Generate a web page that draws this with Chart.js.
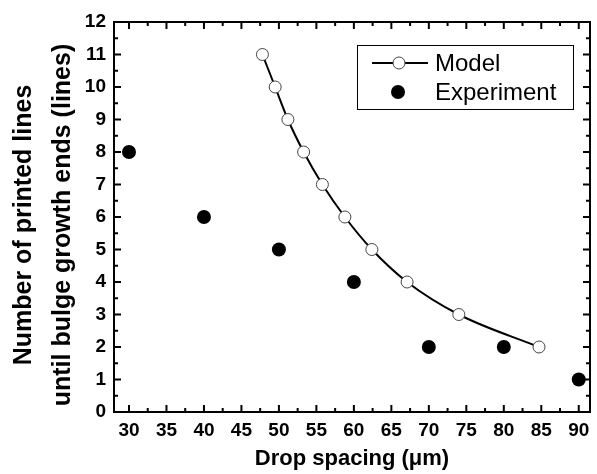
<!DOCTYPE html>
<html>
<head>
<meta charset="utf-8">
<script src="https://cdn.jsdelivr.net/npm/chart.js@4.4.1/dist/chart.umd.min.js"></script>
<style>
  html, body { margin: 0; padding: 0; background: #fff; }
  #wrap { width: 597px; height: 474px; }
</style>
</head>
<body>
<div id="wrap"><canvas id="chart" width="597" height="474"></canvas></div>
<script>
  // ---- data ----
  const modelX = [47.8, 49.5, 51.2, 53.3, 55.8, 58.8, 62.4, 67.1, 74.0, 84.7];
  const modelY = [11, 10, 9, 8, 7, 6, 5, 4, 3, 2];
  const expX = [30, 40, 50, 60, 70, 80, 90];
  const expY = [8, 6, 5, 4, 2, 2, 1];

  const xTicks = [30, 35, 40, 45, 50, 55, 60, 65, 70, 75, 80, 85, 90];
  const yTicks = [0, 1, 2, 3, 4, 5, 6, 7, 8, 9, 10, 11, 12];

  const seriesNames = ["Model", "Experiment"];
  const xTitle = "Drop spacing (\u03bcm)";
  const yTitle = ["Number of printed lines", "until bulge growth ends (lines)"];

  const FONT = "Arial, 'Liberation Sans', sans-serif";

  // inward major + minor ticks on all four sides, plus the box
  const framePlugin = {
    id: "frame",
    beforeDatasetsDraw(chart) {
      const { ctx, chartArea: a, scales: { x, y } } = chart;
      const major = 7, minor = 4;
      ctx.save();
      ctx.strokeStyle = "#000";
      ctx.lineWidth = 2;
      ctx.beginPath();
      xTicks.forEach((v, i) => {
        const px = x.getPixelForValue(v);
        ctx.moveTo(px, a.bottom); ctx.lineTo(px, a.bottom - major);
        ctx.moveTo(px, a.top); ctx.lineTo(px, a.top + major);
        if (i < xTicks.length - 1) {
          const mx = x.getPixelForValue((v + xTicks[i + 1]) / 2);
          ctx.moveTo(mx, a.bottom); ctx.lineTo(mx, a.bottom - minor);
          ctx.moveTo(mx, a.top); ctx.lineTo(mx, a.top + minor);
        }
      });
      yTicks.forEach((v, i) => {
        const py = y.getPixelForValue(v);
        ctx.moveTo(a.left, py); ctx.lineTo(a.left + major, py);
        ctx.moveTo(a.right, py); ctx.lineTo(a.right - major, py);
        if (i < yTicks.length - 1) {
          const my = y.getPixelForValue((v + yTicks[i + 1]) / 2);
          ctx.moveTo(a.left, my); ctx.lineTo(a.left + minor, my);
          ctx.moveTo(a.right, my); ctx.lineTo(a.right - minor, my);
        }
      });
      ctx.stroke();
      ctx.strokeRect(a.left, a.top, a.right - a.left, a.bottom - a.top);
      ctx.restore();
    }
  };

  // two-line rotated y title (spacing wider than the library allows to shift)
  const yTitlePlugin = {
    id: "yTitle",
    afterDraw(chart) {
      const { ctx } = chart;
      ctx.save();
      ctx.font = `bold 25px ${FONT}`;
      ctx.fillStyle = "#000";
      ctx.textAlign = "center";
      ctx.textBaseline = "middle";
      const xs = [24, 63];
      yTitle.forEach((t, i) => {
        ctx.save();
        ctx.translate(xs[i], 225);
        ctx.rotate(-Math.PI / 2);
        ctx.fillText(t, 0, 0);
        ctx.restore();
      });
      ctx.restore();
    }
  };

  // boxed legend inside the plot, top right
  const legendPlugin = {
    id: "boxLegend",
    afterDatasetsDraw(chart) {
      const { ctx } = chart;
      const box = { x: 357, y: 45, w: 216, h: 64 };
      ctx.save();
      ctx.fillStyle = "#fff";
      ctx.fillRect(box.x, box.y, box.w, box.h);
      ctx.strokeStyle = "#000";
      ctx.lineWidth = 1;
      ctx.strokeRect(box.x + 0.5, box.y + 0.5, box.w, box.h);

      const rows = [63, 92];
      // Model: line with hollow marker
      ctx.lineWidth = 2;
      ctx.beginPath();
      ctx.moveTo(372, rows[0]); ctx.lineTo(428, rows[0]);
      ctx.stroke();
      ctx.beginPath();
      ctx.arc(399, rows[0], 6, 0, Math.PI * 2);
      ctx.fillStyle = "#fff";
      ctx.fill();
      ctx.lineWidth = 1;
      ctx.strokeStyle = "#444";
      ctx.stroke();
      // Experiment: filled marker
      ctx.beginPath();
      ctx.arc(398, rows[1], 7, 0, Math.PI * 2);
      ctx.fillStyle = "#000";
      ctx.fill();

      ctx.font = `24px ${FONT}`;
      ctx.fillStyle = "#000";
      ctx.textAlign = "left";
      ctx.textBaseline = "middle";
      seriesNames.forEach((n, i) => ctx.fillText(n, 435, rows[i] + 1));
      ctx.restore();
    }
  };

  const tickFont = { family: FONT, size: 19, weight: "bold" };

  new Chart(document.getElementById("chart").getContext("2d"), {
    type: "scatter",
    data: {
      datasets: [
        {
          label: seriesNames[0],
          data: modelX.map((v, i) => ({ x: v, y: modelY[i] })),
          showLine: true,
          borderColor: "#000",
          borderWidth: 2,
          cubicInterpolationMode: "monotone",
          pointStyle: "circle",
          pointRadius: 6,
          pointBackgroundColor: "#fff",
          pointBorderColor: "#444",
          pointBorderWidth: 1,
          clip: false
        },
        {
          label: seriesNames[1],
          data: expX.map((v, i) => ({ x: v, y: expY[i] })),
          showLine: false,
          pointStyle: "circle",
          pointRadius: 7,
          pointBackgroundColor: "#000",
          pointBorderColor: "#000",
          pointBorderWidth: 0,
          clip: false
        }
      ]
    },
    options: {
      responsive: false,
      animation: false,
      events: [],
      layout: { padding: { top: 22, right: 2, left: 0, bottom: 0 } },
      plugins: { legend: { display: false }, tooltip: { enabled: false } },
      scales: {
        x: {
          type: "linear",
          min: 28,
          max: 91.5,
          afterBuildTicks: (s) => { s.ticks = xTicks.map((v) => ({ value: v })); },
          afterFit: (s) => { s.height = 62; },
          grid: { display: false, drawTicks: false },
          border: { display: false },
          ticks: { padding: 7, color: "#000", font: tickFont, maxRotation: 0, autoSkip: false },
          title: {
            display: true,
            text: xTitle,
            color: "#000",
            font: { family: FONT, size: 22, weight: "bold", lineHeight: 1.2 },
            padding: { top: 0, bottom: 2 }
          }
        },
        y: {
          type: "linear",
          min: 0,
          max: 12,
          afterBuildTicks: (s) => { s.ticks = yTicks.map((v) => ({ value: v })); },
          afterFit: (s) => { s.width = 114; },
          grid: { display: false, drawTicks: false },
          border: { display: false },
          ticks: { padding: 8, color: "#000", font: tickFont, autoSkip: false }
        }
      }
    },
    plugins: [framePlugin, legendPlugin, yTitlePlugin]
  });
</script>
</body>
</html>
